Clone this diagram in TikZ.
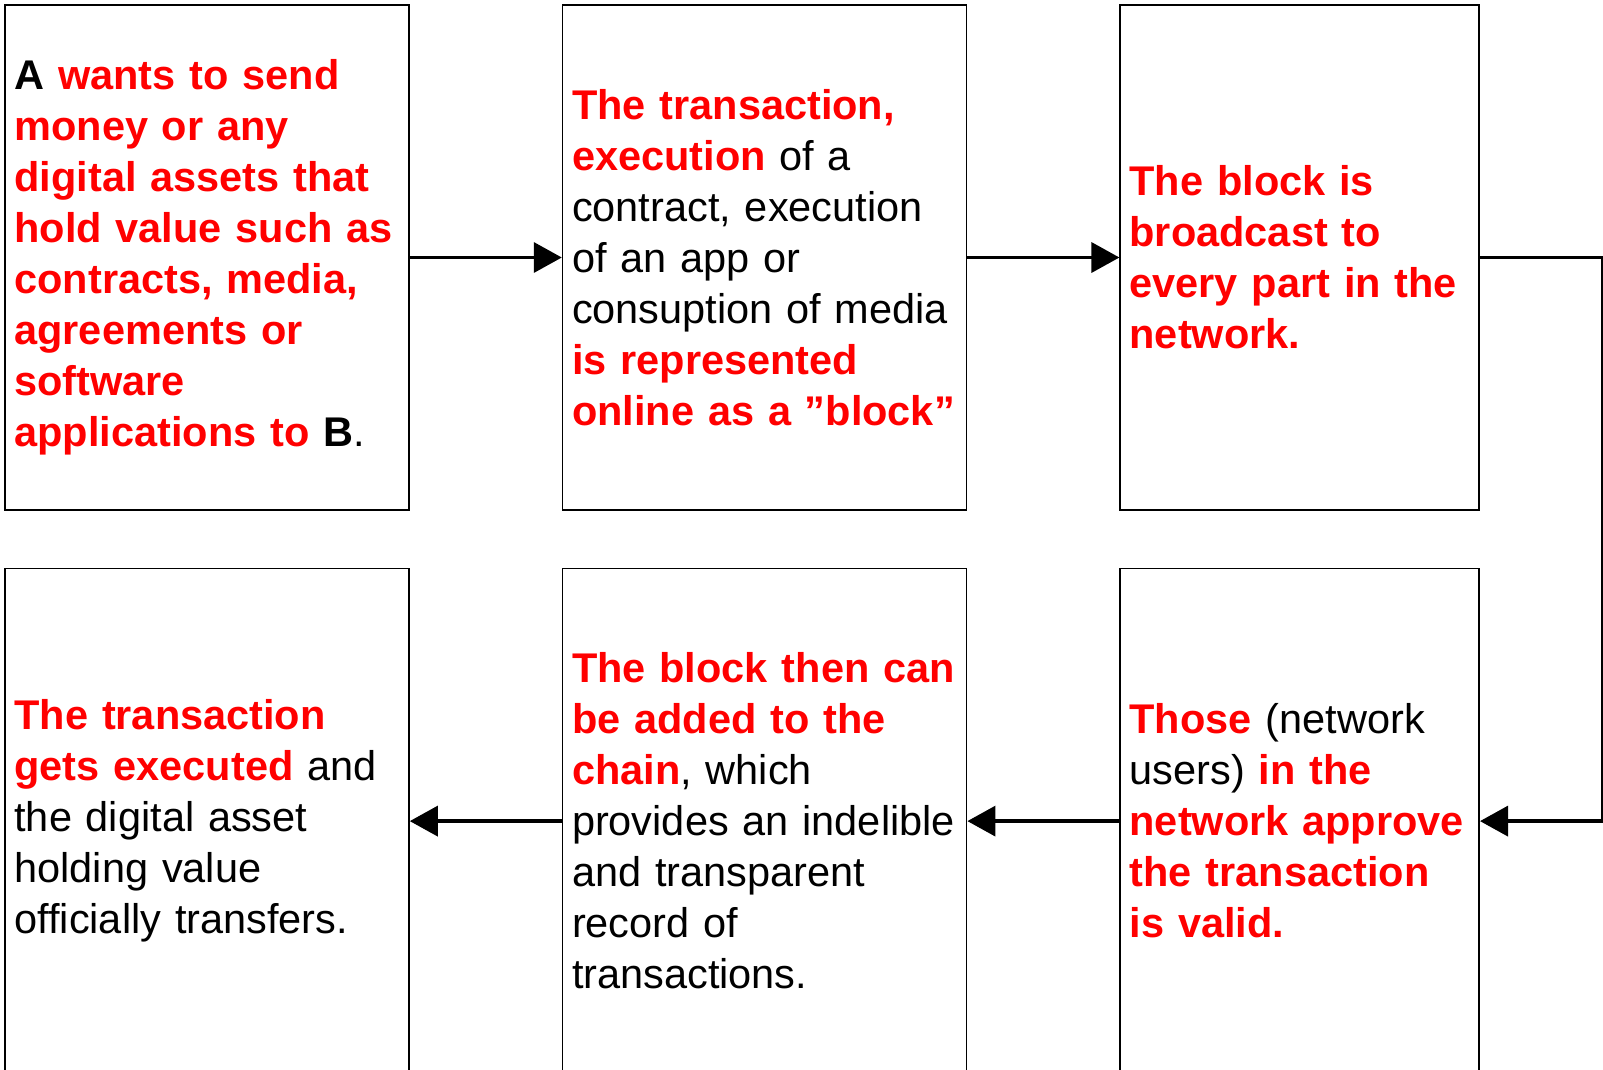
\documentclass[tikz,border=0pt]{standalone}
\usepackage{fontspec}
\setmainfont{Liberation Sans}
\usetikzlibrary{arrows.meta,positioning}
\definecolor{keyred}{RGB}{255,0,0}
\newcommand{\keytxt}[1]{{\color{keyred}\bfseries #1}}

\begin{document}
\begin{tikzpicture}[->,>={Triangle[length=28pt,width=30pt]},node distance=152pt,
    stepbox/.style={rectangle, draw=black, line width=1.6pt, minimum height=505pt},
    widebox/.style={stepbox, minimum width=404pt},
    narrowbox/.style={stepbox, minimum width=359pt},
    steptext/.style={inner sep=10pt, text width=420pt, align=left,
      font=\fontsize{41.5}{51}\selectfont},
    link/.style={line width=3.5pt}]
  \useasboundingbox (0,0) rectangle (1603pt,-1069pt);
  \clip (0,0) rectangle (1603pt,-1069pt);

  % boxes
  \node[widebox] (send) at (207pt,-257.5pt) {};
  \node[widebox] (block) [right=of send] {};
  \node[narrowbox] (broadcast) [right=of block] {};
  \node[widebox] (exec) [below=57pt of send] {};
  \node[widebox] (chain) [below=57pt of block] {};
  \node[narrowbox] (approve) [below=57pt of broadcast] {};

  % texts
  \node[steptext] (sendtxt) [right=0pt of send.west] {\textbf{A} \keytxt{wants to send\\
    money or any\\ digital assets that\\ hold value such as\\ contracts, media,\\
    agreements or\\ software\\ applications to} \textbf{B}.};
  \node[steptext] (blocktxt) [right=0pt of block.west] {\keytxt{The transaction,\\ execution} of a\\
    contract, execution\\ of an app or\\ consuption of media\\
    \keytxt{is represented\\ online as a ”block”}};
  \node[steptext] (broadcasttxt) [right=0pt of broadcast.west] {\keytxt{The block is\\ broadcast to\\
    every part in the\\ network.}};
  \node[steptext] (exectxt) [right=0pt of exec.west] {\keytxt{The transaction\\ gets executed} and\\
    the digital asset\\ holding value\\ officially transfers.};
  \node[steptext] (chaintxt) [right=0pt of chain.west] {\keytxt{The block then can\\ be added to the\\
    chain}, which\\ provides an indelible\\ and transparent\\ record of\\ transactions.};
  \node[steptext] (approvetxt) [right=0pt of approve.west] {\keytxt{Those} (network\\
    users) \keytxt{in the\\ network approve\\ the transaction\\ is valid.}};

  \draw[link] (send) -- (block);
  \draw[link] (block) -- (broadcast);
  \draw[link] (broadcast.east) -- ++(123pt,0) |- (approve.east);
  \draw[link] (approve) -- (chain);
  \draw[link] (chain) -- (exec);
\end{tikzpicture}
\end{document}
